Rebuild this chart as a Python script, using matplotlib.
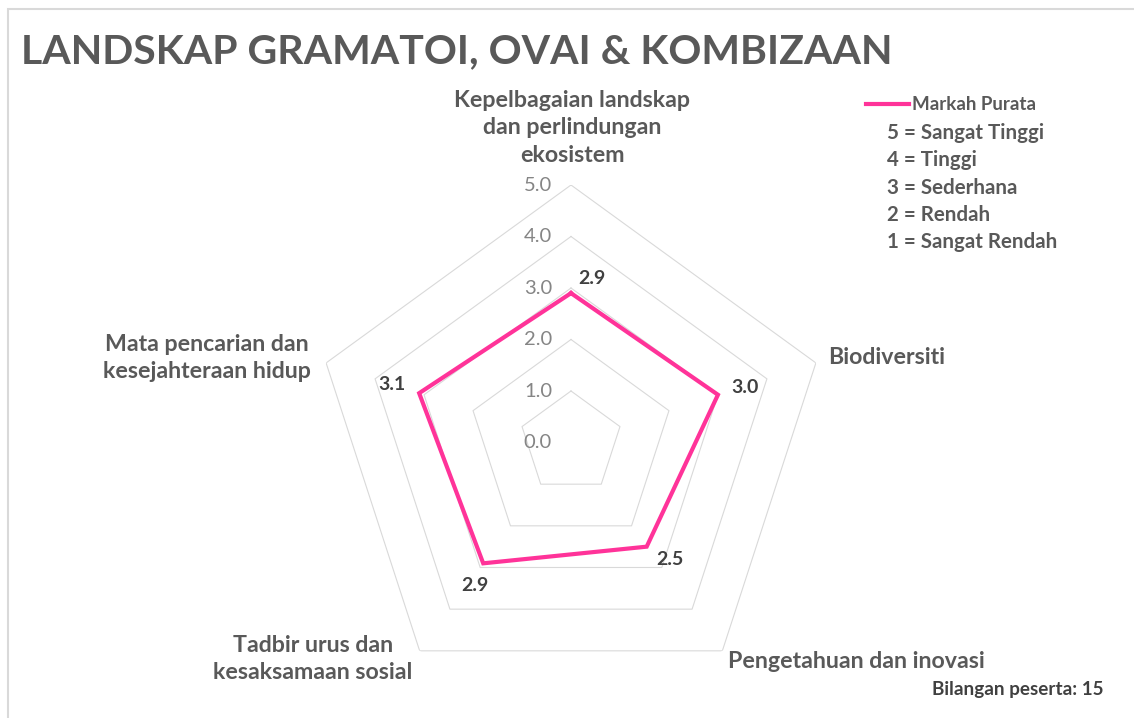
import numpy as np
import matplotlib.pyplot as plt
from matplotlib.patches import Rectangle

plt.rcParams['font.family'] = ['Lato', 'DejaVu Sans']

# data
categories = ['Kepelbagaian landskap\ndan perlindungan\nekosistem',
              'Biodiversiti',
              'Pengetahuan dan inovasi',
              'Tadbir urus dan\nkesaksamaan sosial',
              'Mata pencarian dan\nkesejahteraan hidup']
scores = [2.9, 3.0, 2.5, 2.9, 3.1]
ring_values = [1, 2, 3, 4, 5]
tick_values = [0.0, 1.0, 2.0, 3.0, 4.0, 5.0]
scale_notes = ['5 = Sangat Tinggi', '4 = Tinggi', '3 = Sederhana',
               '2 = Rendah', '1 = Sangat Rendah']
series_name = 'Markah Purata'
n_peserta = 15

W, H = 1134, 718
fig = plt.figure(figsize=(W / 100, H / 100), dpi=100, facecolor='white')


def fx(x):
    return x / W


def fy(y):
    return 1 - y / H


# chart border (Excel chart area)
fig.patches.append(Rectangle((fx(8), fy(H + 10)), 2, fy(9) - fy(H + 10),
                             transform=fig.transFigure, fill=False,
                             edgecolor='#d9d9d9', linewidth=1.5))

# polar axes: centre (571, 442.5), 51.5 px per unit
cx, cy, unit = 571, 442.5, 51.5
R = 5 * unit
ax = fig.add_axes([fx(cx - R), fy(cy + R), 2 * R / W, 2 * R / H],
                  projection='polar')
ax.set_theta_offset(np.pi / 2)
ax.set_theta_direction(-1)
ax.set_ylim(0, 5)
ax.grid(False)
ax.spines['polar'].set_visible(False)
ax.set_xticks([])
ax.set_yticks([])
ax.patch.set_alpha(0)

n = len(categories)
theta = np.linspace(0, 2 * np.pi, n, endpoint=False)
theta_c = np.append(theta, theta[0])

for rv in ring_values:
    ax.plot(theta_c, [rv] * (n + 1), color='#d9d9d9', linewidth=0.8, zorder=1)

vals = np.append(scores, scores[0])
line, = ax.plot(theta_c, vals, color='#ff3399', linewidth=3.0, zorder=3,
                solid_joinstyle='miter', label=series_name)

# radial tick labels
for tv in tick_values:
    ax.annotate(f'{tv:.1f}', xy=(0, tv), xytext=(-19, 0),
                textcoords='offset pixels', ha='right', va='center',
                fontsize=14.5, color='#858585')

# data labels
label_offsets = [(21, 15), (27, 7), (23, -13), (-8, -22), (-27, 9)]
for t, v, off in zip(theta, scores, label_offsets):
    ax.annotate(f'{v:.1f}', xy=(t, v), xytext=off, textcoords='offset pixels',
                ha='center', va='center', fontsize=14, fontweight='bold',
                color='#404040')

# category labels
cat_pos = [(572, 128, 'center'), (828, 358, 'left'), (728, 661, 'left'),
           (313, 659, 'center'), (207, 358, 'center')]
for lab, (x, y, ha) in zip(categories, cat_pos):
    fig.text(fx(x), fy(y), lab, ha=ha, va='center', fontsize=16.7,
             fontweight='bold', color='#595959', linespacing=1.38)

# title
fig.text(fx(21), fy(52), 'LANDSKAP GRAMATOI, OVAI & KOMBIZAAN', ha='left',
         va='center', fontsize=29.5, fontweight='bold', color='#595959')

# legend
fig.legend(handles=[line], loc='center left', bbox_to_anchor=(fx(866), fy(105)),
           frameon=False, handlelength=2.3, handletextpad=0.15,
           borderaxespad=0, borderpad=0, labelcolor='#595959',
           prop={'weight': 'bold', 'size': 13.5})
for i, note in enumerate(scale_notes):
    fig.text(fx(887), fy(133 + 27.3 * i), note, ha='left', va='center',
             fontsize=14.8, fontweight='bold', color='#595959')

fig.text(fx(1104), fy(690), f'Bilangan peserta: {n_peserta}', ha='right',
         va='center', fontsize=13.6, fontweight='bold', color='#404040')

fig.savefig('out.png', dpi=100, facecolor='white')
